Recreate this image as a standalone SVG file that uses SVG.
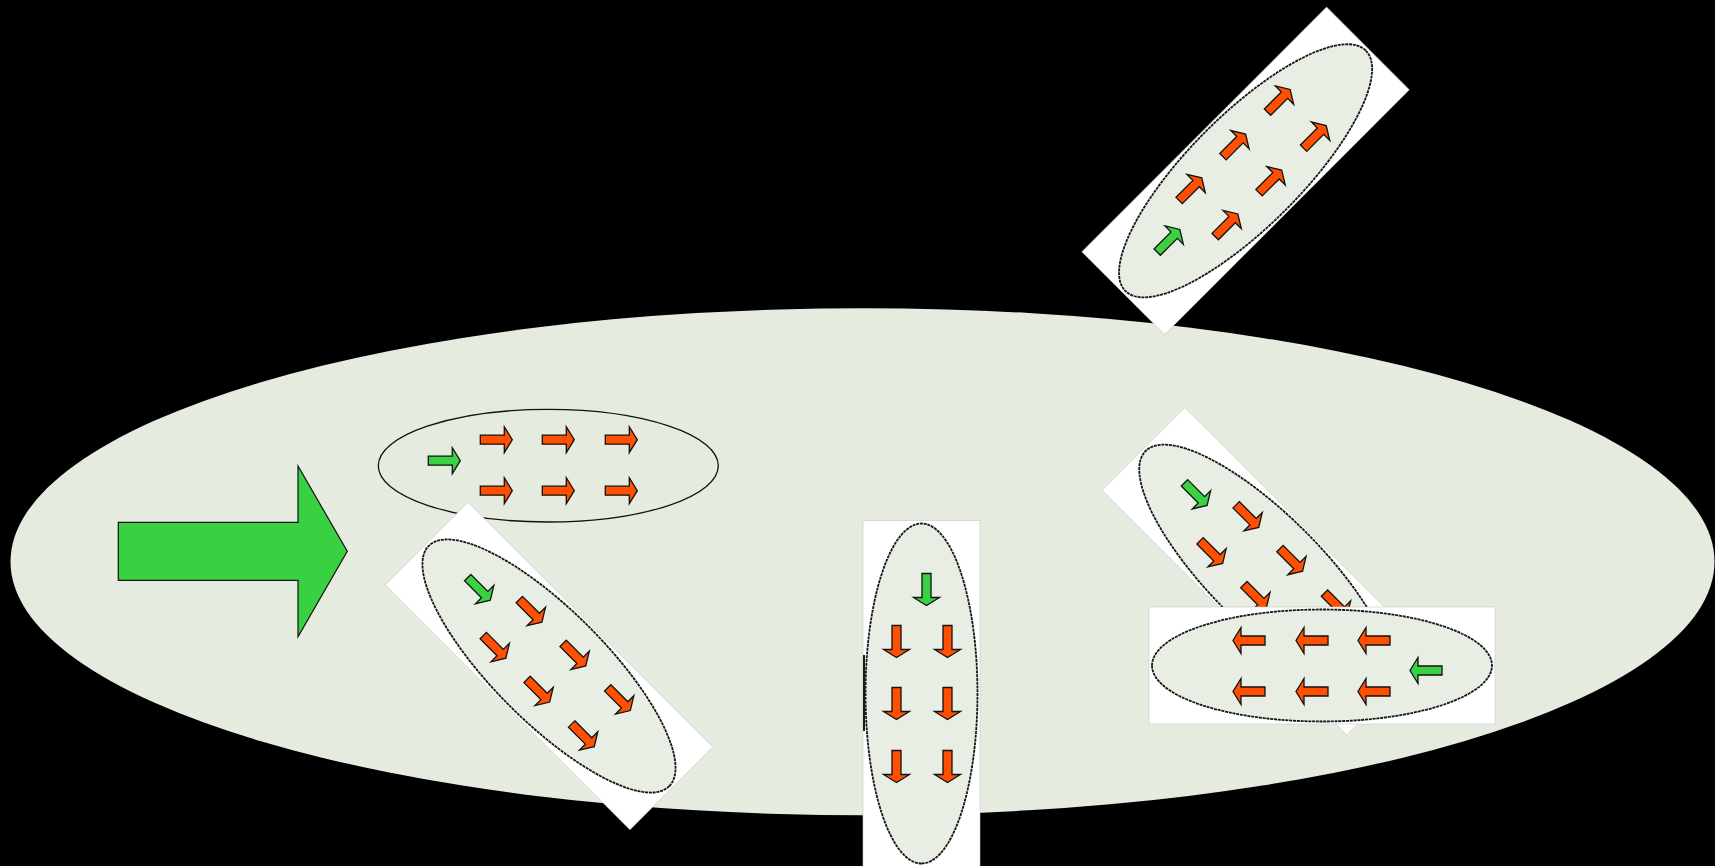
<svg xmlns="http://www.w3.org/2000/svg" xmlns:xlink="http://www.w3.org/1999/xlink" width="1715" height="866" viewBox="0 0 1715 866">
  <style>
    .field { fill: #e6ebe0; }
    .card { fill: #ffffff; stroke: #c8c8c8; stroke-width: 0.6; }
    .ring { fill: none; stroke: #111; stroke-width: 1.3; }
    .rim { fill: #e9eee4; stroke: #151515; stroke-width: 1.8; stroke-dasharray: 3 0.8; }
    .spin { stroke: #111; stroke-width: 1.3; stroke-linejoin: miter; }
    .lead { fill: #3ad143; }
    .follow { fill: #ff4f00; }
    .big { fill: #39d141; stroke: #111; stroke-width: 1.2; }
  </style>
  <defs>
    <!-- single small arrow, pointing along +x, centred on the origin -->
    <path id="spin" d="M-16,-4.5 H8 V-13 L16,0 L8,13 V4.5 H-16 Z"/>
    <!-- one domain: a leading green arrow and two rows of three orange arrows -->
    <g id="arrows">
      <use xlink:href="#spin" class="spin lead" x="-104" y="-5"/>
      <use xlink:href="#spin" class="spin follow" x="-52" y="-26"/>
      <use xlink:href="#spin" class="spin follow" x="10" y="-26"/>
      <use xlink:href="#spin" class="spin follow" x="73" y="-26"/>
      <use xlink:href="#spin" class="spin follow" x="-52" y="25"/>
      <use xlink:href="#spin" class="spin follow" x="10" y="25"/>
      <use xlink:href="#spin" class="spin follow" x="73" y="25"/>
    </g>
    <!-- domain pasted on a white card -->
    <g id="carded">
      <rect class="card" x="-173" y="-58.5" width="346" height="117"/>
      <ellipse class="rim" cx="0" cy="0" rx="170" ry="56"/>
      <use xlink:href="#arrows"/>
    </g>
  </defs>

  <!-- black backdrop -->
  <rect x="0" y="0" width="1715" height="866" fill="#000"/>

  <!-- large grain -->
  <g id="grain">
    <ellipse class="field" cx="862.5" cy="561.7" rx="852" ry="253.5"/>
  </g>

  <!-- applied field direction -->
  <g id="field-arrow">
    <path class="big" d="M118.3,522.3 H298 V466 L347.3,551.3 L298,636.7 V580.3 H118.3 Z"/>
  </g>

  <!-- domain tilted up-right, above the grain -->
  <g id="domain-up-right" transform="translate(1245.6,170.8) rotate(-45)">
    <use xlink:href="#carded"/>
  </g>

  <!-- domain aligned with the field -->
  <g id="domain-aligned" transform="translate(548.3,465.7)">
    <ellipse class="ring" cx="0" cy="0" rx="170" ry="56.3"/>
    <use xlink:href="#arrows"/>
  </g>

  <!-- domain tilted down-right, lower left -->
  <g id="domain-down-right" transform="translate(549,666) rotate(45)">
    <use xlink:href="#carded"/>
  </g>

  <!-- domain pointing down -->
  <g id="domain-down">
    <g transform="translate(921.5,693.5) rotate(90)">
      <use xlink:href="#carded"/>
    </g>
    <line x1="864" y1="655" x2="864" y2="731" stroke="#1a1a1a" stroke-width="2"/>
  </g>

  <!-- domain tilted down-right, right side -->
  <g id="domain-down-right-2" transform="translate(1265.8,571.2) rotate(45)">
    <use xlink:href="#carded"/>
  </g>

  <!-- domain pointing left -->
  <g id="domain-left" transform="translate(1322,665.5) rotate(180)">
    <use xlink:href="#carded"/>
  </g>
</svg>
